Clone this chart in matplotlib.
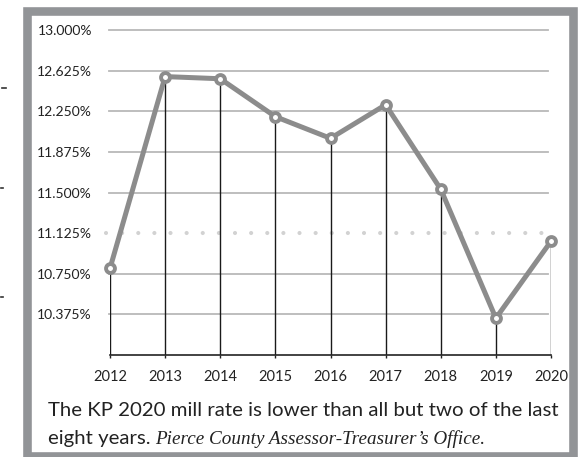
import matplotlib
matplotlib.use('Agg')
import matplotlib.pyplot as plt
from matplotlib.patches import Rectangle
from matplotlib.lines import Line2D

years = [2012, 2013, 2014, 2015, 2016, 2017, 2018, 2019, 2020]
rates = [10.80, 12.57, 12.55, 12.20, 12.00, 12.31, 11.53, 10.34, 11.05]
yticks = [10.375, 10.750, 11.125, 11.500, 11.875, 12.250, 12.625, 13.000]
ref_level = 11.125
caption1 = "The KP 2020 mill rate is lower than all but two of the last"
caption2a = "eight years."
caption2b = "Pierce County Assessor-Treasurer\u2019s Office."

plt.rcParams['font.family'] = ['Lato', 'DejaVu Sans']
plt.rcParams['lines.scale_dashes'] = False

W, H = 580, 457
fig = plt.figure(figsize=(W / 100, H / 100), dpi=100)

# frame
fig.patches.append(Rectangle((27 / W, 1 - 456 / H), 546 / W, 445 / H,
                             transform=fig.transFigure, fill=False,
                             edgecolor='#929497', linewidth=6.2))
# bits of the neighbouring page text
for (x0, x1, y) in [(2, 6, 88), (1, 3, 188), (1, 3, 297)]:
    fig.lines.append(Line2D([x0 / W, x1 / W], [1 - y / H, 1 - y / H],
                            transform=fig.transFigure, color='#333333', lw=1.2))

ax = fig.add_axes([110 / W, 1 - 355 / H, 441 / W, 325 / H])
ax.set_xlim(2012, 2020)
ax.set_ylim(10.0, 13.0)
for s in ['top', 'right', 'left']:
    ax.spines[s].set_visible(False)
ax.spines['bottom'].set_color('#222222')
ax.spines['bottom'].set_linewidth(1.2)

for t in yticks:
    if t == ref_level:
        continue
    ax.axhline(t, xmin=-0.003, xmax=0.993, color='#b9b9b9', lw=1.3, zorder=1,
               clip_on=False)
ax.plot([2011.92, 2020.0], [ref_level, ref_level], color='#d2d2d2', lw=3.0,
        linestyle=(0, (0.01, 11.6)), dash_capstyle='round', zorder=1,
        clip_on=False)

ax.vlines(years, 10.0, rates, color='#1a1a1a', lw=1.0, zorder=2)
ax.plot(years, rates, color='#8c8c8c', lw=3.6, zorder=3,
        marker='o', markersize=6.4, markeredgewidth=2.8,
        markerfacecolor='white', markeredgecolor='#8c8c8c', clip_on=False)

ax.set_yticks(yticks)
ax.set_yticklabels(['%.3f%%' % t for t in yticks])
ax.set_xticks(years)
ax.set_xticklabels([str(y) for y in years])
ax.tick_params(axis='y', length=0, pad=13, labelsize=10, labelcolor='#222222')
ax.tick_params(axis='x', length=2.5, direction='out', width=1.0,
               color='#222222', pad=8, labelsize=10.5, labelcolor='#222222')

fig.text(47.5 / W, 1 - 415.5 / H, caption1, fontsize=14.7, color='#222222',
         va='baseline', ha='left')
fig.text(47.5 / W, 1 - 444 / H, caption2a, fontsize=14.7, color='#222222',
         va='baseline', ha='left')
fig.text(155 / W, 1 - 444 / H, caption2b, fontsize=13.8, color='#222222',
         va='baseline', ha='left', family='Liberation Serif', style='italic')

fig.savefig('out.png', dpi=100)
